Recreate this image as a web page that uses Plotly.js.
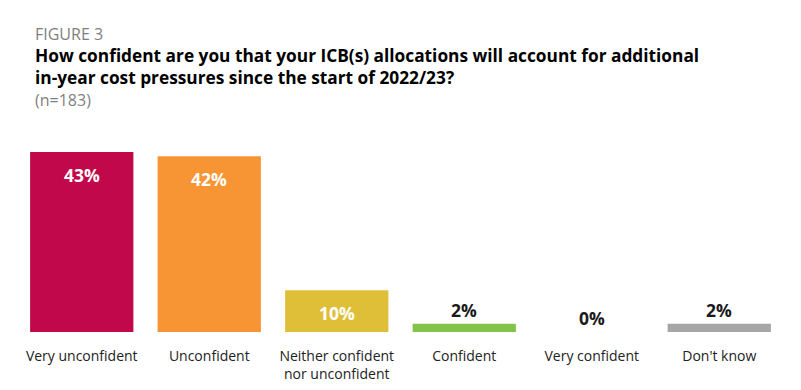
<!DOCTYPE html>
<html><head><meta charset="utf-8">
<script src="https://cdn.plot.ly/plotly-3.0.1.min.js"></script>
<style>body{margin:0;background:#fff}#chart{width:801px;height:390px}</style>
</head><body><div id="chart"></div>
<script>
const categories = ["Very unconfident", "Unconfident", "Neither confident<br>nor unconfident", "Confident", "Very confident", "Don't know"];
const values = [43, 42, 10, 2, 0, 2];
const labels = ["43%", "42%", "10%", "2%", "0%", "2%"];
const colors = ["#C0084A", "#F79433", "#E0BF38", "#84C34A", "#84C34A", "#A6A6A6"];
const insideLabel = [true, true, true, false, false, false];

const FONT = "Open Sans, Noto Sans, sans-serif";
const annotations = categories.map((c, i) => ({
  x: c, y: values[i], xref: 'x', yref: 'y',
  text: '<b>' + labels[i] + '</b>', showarrow: false,
  yanchor: insideLabel[i] ? 'top' : 'bottom',
  yshift: insideLabel[i] ? -9 : 0,
  font: {family: FONT, size: 17.5, color: insideLabel[i] ? '#ffffff' : '#1a1a1a'}
}));
annotations.push(
  {xref: 'paper', yref: 'paper', x: (33-18)/765, y: (332-34)/180, xanchor: 'left', yanchor: 'middle', showarrow: false, align: 'left',
   text: 'FIGURE 3', font: {family: FONT, size: 16, color: '#7f7f7f'}},
  {xref: 'paper', yref: 'paper', x: (33-18)/765, y: (332-66.5)/180, xanchor: 'left', yanchor: 'middle', showarrow: false, align: 'left',
   text: '<b>How confident are you that your ICB(s) allocations will account for additional<br>in-year cost pressures since the start of 2022/23?</b>',
   font: {family: FONT, size: 17.3, color: '#000000'}},
  {xref: 'paper', yref: 'paper', x: (33-18)/765, y: (332-100)/180, xanchor: 'left', yanchor: 'middle', showarrow: false, align: 'left',
   text: '(n=183)', font: {family: FONT, size: 16, color: '#7f7f7f'}}
);

Plotly.newPlot('chart', [{
  type: 'bar', x: categories, y: values,
  marker: {color: colors},
  hoverinfo: 'none'
}], {
  width: 801, height: 390,
  margin: {l: 18, r: 18, t: 152, b: 58},
  paper_bgcolor: '#ffffff', plot_bgcolor: '#ffffff',
  bargap: 0.19,
  showlegend: false,
  xaxis: {showgrid: false, zeroline: false, showline: false, ticks: 'outside', ticklen: 11, tickcolor: 'rgba(0,0,0,0)',
          tickfont: {family: FONT, size: 14, color: '#222222'}, fixedrange: true},
  yaxis: {range: [0, 43], visible: false, showgrid: false, zeroline: false, fixedrange: true},
  annotations: annotations
}, {displayModeBar: false, staticPlot: true});
</script></body></html>
